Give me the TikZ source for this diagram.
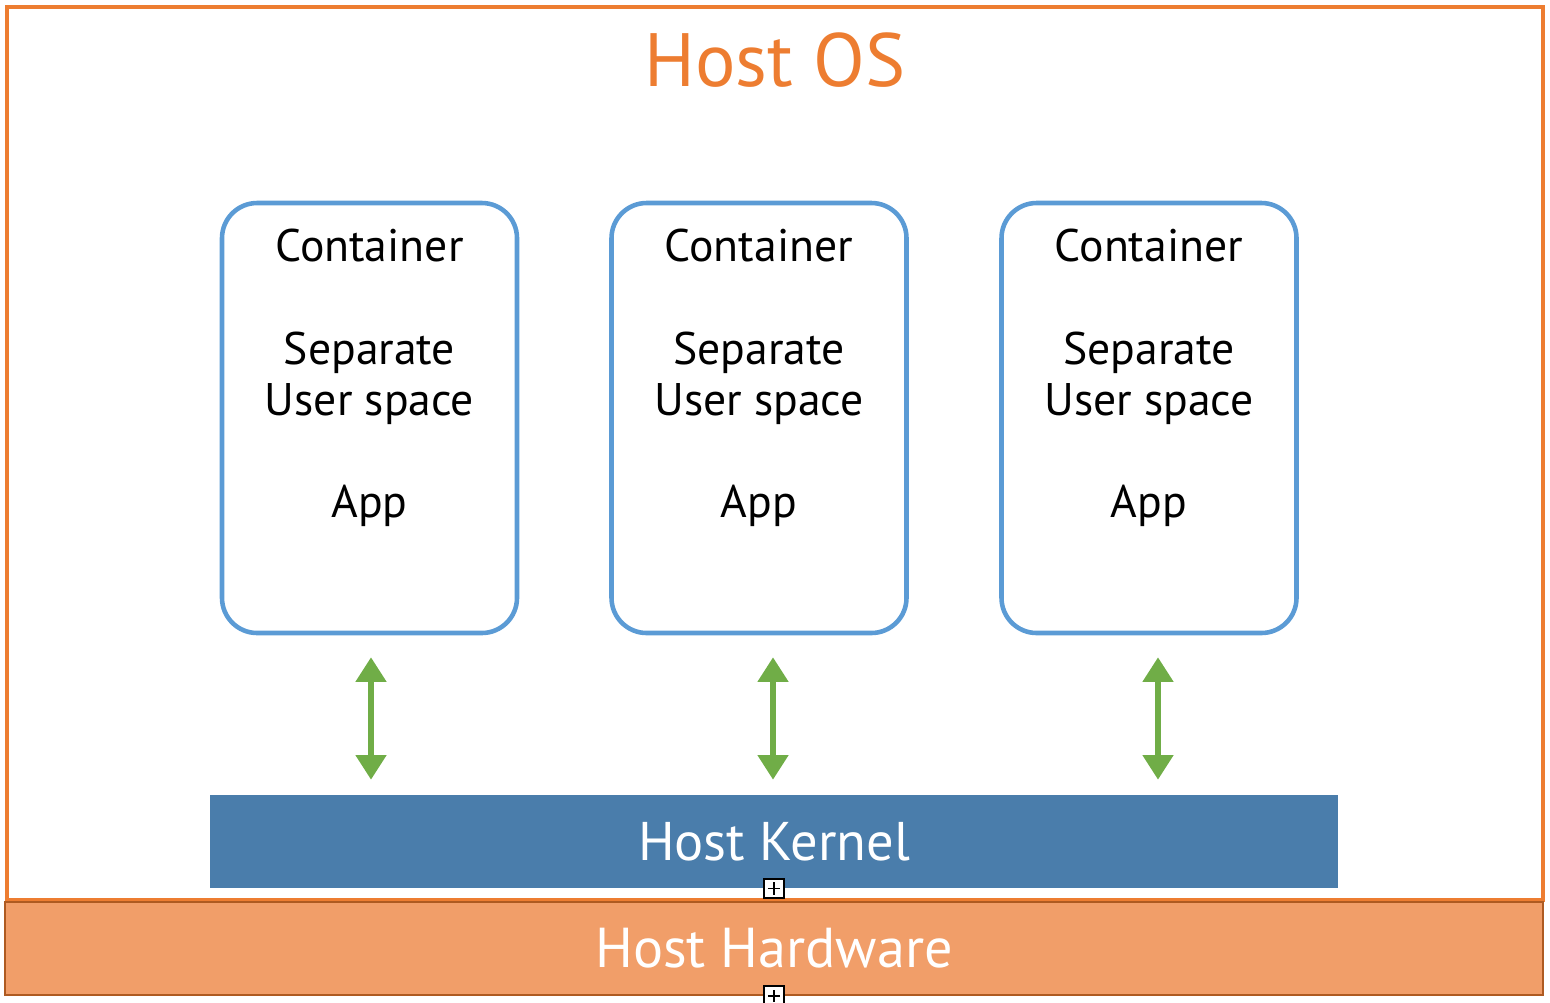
\documentclass[tikz,border=0pt]{standalone}
\usepackage{fontspec}
\setmainfont{PT Sans}
\usetikzlibrary{arrows.meta,positioning}
\definecolor{osorange}{HTML}{ED7D31}
\definecolor{ctblue}{HTML}{5B9BD5}
\definecolor{arrgreen}{HTML}{70AD47}
\definecolor{kernblue}{HTML}{4A7DAB}
\definecolor{hwfill}{HTML}{F19E69}
\definecolor{hwdraw}{HTML}{AE5A21}
\tikzset{
  cbox/.style={draw=ctblue,line width=2.6pt,rounded corners=20pt,
    minimum width=295*0.02cm,minimum height=430*0.02cm},
  ctext/.style={align=center,font=\fontsize{26}{29.2}\selectfont},
  updown/.style={draw=arrgreen,line width=3pt,
    {Triangle[width=17pt,length=14pt]}-{Triangle[width=17pt,length=14pt]},
    shorten <=22*0.02cm,shorten >=15*0.02cm},
  plusbox/.style={draw,fill=white,line width=1.2pt,minimum size=11pt,inner sep=0pt},
}
\begin{document}
\begin{tikzpicture}[x=0.02cm,y=-0.02cm]
\useasboundingbox (0,0) rectangle (1550,1002);
% host os frame
\draw[osorange,line width=2.3pt] (7,7) rectangle (1543,900);
\node[osorange,font=\fontsize{43}{48}\selectfont] (os) at (775,60) {Host OS};

% containers
\node[cbox] (c1) at (369.5,418) {};
\node[cbox] (c2) at (759,418) {};
\node[cbox] (c3) at (1149,418) {};
\node[ctext] (t1) at (369.5,378) {Container\\[29.2pt]Separate\\User space\\[29.2pt]App};
\node[ctext] (t2) at (759,378) {Container\\[29.2pt]Separate\\User space\\[29.2pt]App};
\node[ctext] (t3) at (1149,378) {Container\\[29.2pt]Separate\\User space\\[29.2pt]App};

% kernel and hardware
\node[fill=kernblue,minimum width=1128*0.02cm,minimum height=93*0.02cm,text=white,
  font=\fontsize{31}{36}\selectfont] (k) at (774,841.5) {Host Kernel};
\node[fill=hwfill,draw=hwdraw,line width=1.2pt,minimum width=1538*0.02cm,
  minimum height=93*0.02cm,text=white,font=\fontsize{32}{36}\selectfont] (hw) at (774,948.5) {Host Hardware};
\node[plusbox] (p1) at (k.south) {\rule{7pt}{0.8pt}\llap{\rule[-3.1pt]{0.8pt}{7pt}\hspace{3.1pt}}};
\node[plusbox] (p2) at (hw.south) {\rule{7pt}{0.8pt}\llap{\rule[-3.1pt]{0.8pt}{7pt}\hspace{3.1pt}}};

% arrows
\draw[updown] ([xshift=1.5*0.02cm]c1.south) -- ([xshift=1.5*0.02cm]c1.south |- k.north);
\draw[updown] ([xshift=14*0.02cm]c2.south) -- ([xshift=14*0.02cm]c2.south |- k.north);
\draw[updown] ([xshift=9*0.02cm]c3.south) -- ([xshift=9*0.02cm]c3.south |- k.north);
\end{tikzpicture}
\end{document}
